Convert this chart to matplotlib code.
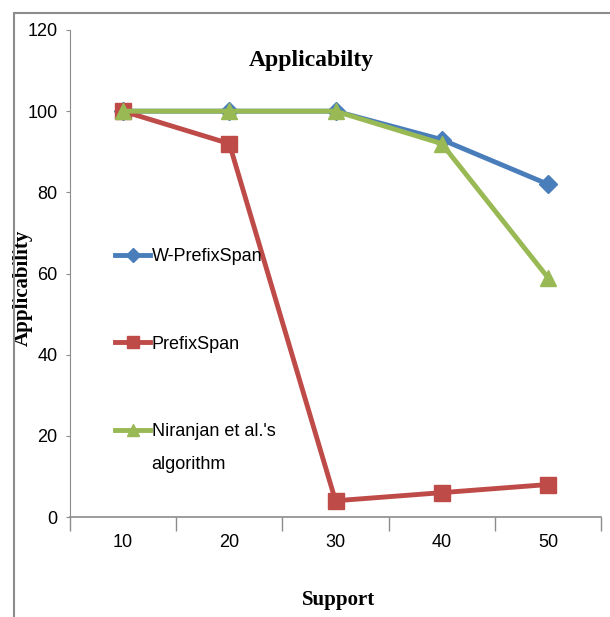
import matplotlib.pyplot as plt
from matplotlib.patches import Rectangle

support = ["10", "20", "30", "40", "50"]
w_prefixspan = [100, 100, 100, 93, 82]
prefixspan = [100, 92, 4, 6, 8]
niranjan = [100, 100, 100, 92, 59]
series_labels = ["W-PrefixSpan", "PrefixSpan", "Niranjan et al.'s"]
label_tail = "algorithm"  # second line of the third legend entry
y_ticks = [0, 20, 40, 60, 80, 100, 120]

NARROW = ["Liberation Sans Narrow", "Liberation Sans", "DejaVu Sans"]
SERIF = ["Liberation Serif", "DejaVu Serif"]

W, H = 610, 617
fig = plt.figure(figsize=(W / 100, H / 100), dpi=100)
ax = fig.add_axes([70 / W, 100 / H, 531 / W, 487 / H])

# outer chart frame (only left and top edges are in view)
fig.patches.append(Rectangle((14 / W, -0.5), 2.0, 1.5 - 13 / H,
                             transform=fig.transFigure, fill=False,
                             edgecolor="#8c8c8c", linewidth=1.5))

x = range(len(support))
ax.plot(x, w_prefixspan, color="#4a7ebb", lw=3.5, marker="D", ms=9,
        label=series_labels[0])
ax.plot(x, prefixspan, color="#be4b48", lw=3.5, marker="s", ms=11,
        label=series_labels[1])
ax.plot(x, niranjan, color="#98b954", lw=3.5, marker="^", ms=11,
        label=series_labels[2])

ax.set_xlim(-0.5, len(support) - 0.5)
ax.set_ylim(0, 120)
ax.set_yticks(y_ticks)
ax.set_yticklabels([str(v) for v in y_ticks], family=NARROW, fontsize=13)
ax.set_xticks(list(x))
ax.set_xticklabels(support, family=NARROW, fontsize=13)
ax.tick_params(axis="x", length=0, pad=12)
ax.tick_params(axis="y", length=3, color="#8c8c8c", pad=6)
# category boundary ticks on the x axis
ax.set_xticks([i - 0.5 for i in range(len(support) + 1)], minor=True)
ax.tick_params(axis="x", which="minor", length=10, color="#8c8c8c", width=1)

for s in ["top", "right"]:
    ax.spines[s].set_visible(False)
for s in ["left", "bottom"]:
    ax.spines[s].set_color("#8c8c8c")
ax.spines["left"].set_linewidth(0.8)
ax.spines["bottom"].set_linewidth(1.2)

ax.text(0.455, 0.938, "Applicabilty", transform=ax.transAxes, family=SERIF,
        fontweight="bold", fontsize=17, ha="center", va="center")
ax.set_xlabel("Support", family=SERIF, fontweight="bold", fontsize=15)
ax.xaxis.set_label_coords(0.505, -0.15)
ax.set_ylabel("Applicability", family=SERIF, fontweight="bold", fontsize=15)
ax.yaxis.set_label_coords(-0.07, 0.47)

leg = ax.legend(loc="upper left", bbox_to_anchor=(0.055, 0.585), frameon=False,
                prop={"family": NARROW, "size": 13}, labelspacing=3.9,
                handlelength=1.9, handletextpad=0.1, markerscale=0.8)

# put the second line of the last entry under its first line
fig.canvas.draw()
bb = leg.get_texts()[2].get_window_extent()
x0, y0 = fig.transFigure.inverted().transform((bb.x0, bb.y0))
fig.text(x0, y0 - 16 / H, label_tail, family=NARROW, fontsize=13,
         ha="left", va="top")

fig.savefig("out.png", dpi=100)
